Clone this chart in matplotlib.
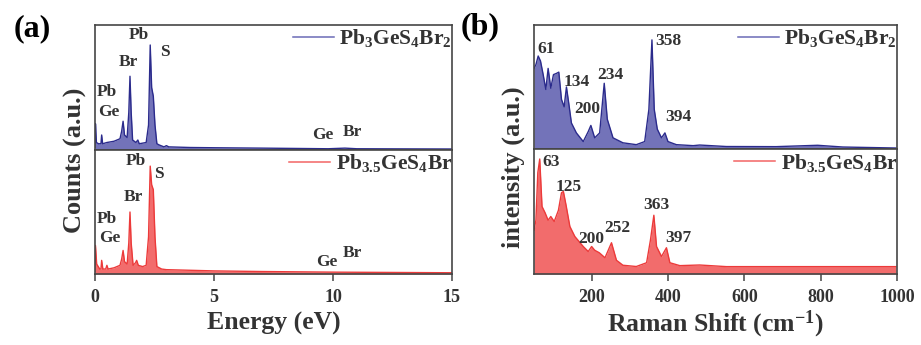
import matplotlib
matplotlib.use("Agg")
import matplotlib.pyplot as plt
from matplotlib.lines import Line2D

plt.rcParams['font.family'] = ['Liberation Serif', 'DejaVu Serif']
plt.rcParams['font.weight'] = 'bold'
plt.rcParams['mathtext.fontset'] = 'custom'
plt.rcParams['mathtext.rm'] = 'Liberation Serif:bold'
plt.rcParams['mathtext.bf'] = 'Liberation Serif:bold'
plt.rcParams['mathtext.it'] = 'Liberation Serif:bold'

# ---------------- data: EDS (energy in eV, counts normalised) ----------------
eds_blue_x = [0.0, 0.02, 0.06, 0.15, 0.25, 0.28, 0.32, 0.5, 0.8, 1.05, 1.12, 1.18, 1.24, 1.35, 1.42,
              1.47, 1.52, 1.58, 1.72, 1.8, 1.86, 2.15, 2.25, 2.32, 2.38, 2.45, 2.52, 2.6, 2.7, 2.9,
              3.0, 3.1, 4.0, 5.0, 7.0, 9.8, 10.5, 11.0, 15.0]
eds_blue_y = [0.02, 0.21, 0.06, 0.05, 0.05, 0.12, 0.05, 0.06, 0.07, 0.09, 0.15, 0.23, 0.12, 0.10, 0.30,
              0.59, 0.30, 0.08, 0.06, 0.08, 0.05, 0.06, 0.20, 0.84, 0.50, 0.43, 0.20, 0.05, 0.04, 0.025,
              0.035, 0.025, 0.02, 0.018, 0.015, 0.01, 0.015, 0.01, 0.008]

eds_red_x = [0.0, 0.02, 0.07, 0.2, 0.25, 0.28, 0.33, 0.45, 0.5, 0.55, 0.8, 1.05, 1.12, 1.18, 1.24, 1.35,
             1.42, 1.47, 1.52, 1.6, 1.7, 1.75, 1.82, 2.0, 2.15, 2.25, 2.32, 2.38, 2.45, 2.52, 2.6,
             2.8, 3.0, 4.0, 5.0, 7.0, 10.0, 15.0]
eds_red_y = [0.02, 0.23, 0.08, 0.04, 0.04, 0.11, 0.04, 0.04, 0.07, 0.04, 0.05, 0.07, 0.12, 0.19, 0.10, 0.08,
             0.25, 0.50, 0.25, 0.07, 0.09, 0.11, 0.07, 0.06, 0.07, 0.30, 0.87, 0.72, 0.68, 0.30, 0.06,
             0.04, 0.035, 0.03, 0.025, 0.02, 0.015, 0.01]

eds_blue_labels = [("Pb", 1.85, 0.92), ("S", 2.94, 0.78), ("Br", 1.39, 0.70), ("Pb", 0.50, 0.46),
                   ("Ge", 0.59, 0.30), ("Ge", 9.58, 0.12), ("Br", 10.8, 0.14)]
eds_red_labels = [("Pb", 1.72, 0.91), ("S", 2.69, 0.81), ("Br", 1.60, 0.62), ("Pb", 0.50, 0.44),
                  ("Ge", 0.63, 0.29), ("Ge", 9.75, 0.10), ("Br", 10.8, 0.17)]

# ---------------- data: Raman (cm-1, intensity normalised) ----------------
raman_blue_x = [49, 54, 60, 66, 73, 80, 86, 93, 100, 108, 114, 121, 128, 134, 140, 147, 160, 178, 191,
                198, 208, 221, 233, 241, 256, 282, 317, 339, 350, 358, 364, 372, 383, 392, 400, 422,
                466, 483, 553, 683, 792, 858, 997]
raman_blue_y = [0.65, 0.68, 0.75, 0.71, 0.60, 0.48, 0.65, 0.49, 0.60, 0.61, 0.62, 0.40, 0.34, 0.50, 0.37,
                0.21, 0.13, 0.06, 0.14, 0.19, 0.09, 0.13, 0.53, 0.24, 0.09, 0.05, 0.035, 0.06, 0.32,
                0.88, 0.32, 0.16, 0.09, 0.13, 0.06, 0.035, 0.027, 0.032, 0.02, 0.019, 0.03, 0.016, 0.008]

raman_red_x = [49, 54, 59, 64, 70, 78, 86, 93, 102, 113, 121, 126, 133, 143, 156, 178, 191, 200, 208,
               220, 235, 252, 265, 282, 317, 344, 354, 363, 370, 383, 396, 405, 431, 483, 553, 727, 997]
raman_red_y = [0.35, 0.43, 0.81, 0.92, 0.54, 0.49, 0.43, 0.46, 0.42, 0.51, 0.65, 0.66, 0.55, 0.38, 0.30,
               0.22, 0.18, 0.22, 0.19, 0.17, 0.13, 0.25, 0.11, 0.07, 0.06, 0.09, 0.27, 0.47, 0.22,
               0.14, 0.21, 0.09, 0.067, 0.072, 0.059, 0.059, 0.059]

raman_blue_labels = [("61", 82, 0.81), ("134", 161, 0.54), ("234", 250, 0.60), ("200", 188, 0.32),
                     ("358", 400, 0.87), ("394", 426, 0.26)]
raman_red_labels = [("63", 93, 0.90), ("125", 139, 0.70), ("200", 198, 0.28), ("252", 267, 0.37),
                    ("363", 370, 0.55), ("397", 426, 0.29)]

name_blue = r'$\mathbf{Pb_3GeS_4Br_2}$'
name_red = r'$\mathbf{Pb_{3.5}GeS_4Br}$'

eds_ticks = [0, 5, 10, 15]
raman_ticks = [200, 400, 600, 800, 1000]

# ---------------- styling ----------------
BLUE_LINE = '#2b2b8c'
BLUE_FILL = '#6b6bb6'
RED_LINE = '#ec3a3a'
RED_FILL = '#f26464'
SPINE = '#454545'
TXT = '#333333'

W, H = 921, 345
fig = plt.figure(figsize=(W / 100, H / 100), dpi=100)


def frac_box(l, r, t, b):
    return [l / W, 1 - b / H, (r - l) / W, (b - t) / H]


def style(ax, bottom):
    for s in ax.spines.values():
        s.set_color(SPINE)
        s.set_linewidth(1.2)
    ax.set_yticks([])
    if bottom:
        ax.tick_params(axis='x', direction='out', length=5, width=1.1, color=SPINE,
                       labelsize=13, pad=6, labelcolor=TXT)
    else:
        ax.tick_params(axis='x', bottom=False, labelbottom=False)


def draw(ax, x, y, line, fill, labels, name, xlim):
    ax.fill_between(x, 0, y, color=fill, alpha=0.95, lw=0)
    ax.plot(x, y, color=line, lw=1.0)
    ax.set_xlim(*xlim)
    ax.set_ylim(0, 1)
    for t, tx, ty in labels:
        ax.text(tx, ty, t, ha='center', va='center', fontsize=12.5, fontweight='bold', color=TXT)
    handle = Line2D([], [], color=fill, lw=1.1)
    leg = ax.legend([handle], [name], loc='upper right', bbox_to_anchor=(1.0, 0.98), frameon=False,
                    fontsize=15.5, handlelength=1.9, handletextpad=0.25, borderaxespad=0, borderpad=0)
    for t in leg.get_texts():
        t.set_color(TXT)


# Panel (a)
axa1 = fig.add_axes(frac_box(95, 452, 25, 150))
axa2 = fig.add_axes(frac_box(95, 452, 150, 274))
draw(axa1, eds_blue_x, eds_blue_y, BLUE_LINE, BLUE_FILL, eds_blue_labels, name_blue, (0, 15))
draw(axa2, eds_red_x, eds_red_y, RED_LINE, RED_FILL, eds_red_labels, name_red, (0, 15))
style(axa1, False)
style(axa2, True)
axa2.set_xticks(eds_ticks)
axa2.set_xticklabels([str(t) for t in eds_ticks], fontweight='bold')
axa2.set_xlabel('Energy (eV)', fontsize=18.5, fontweight='bold', color=TXT, labelpad=4)
fig.text(75 / W, 1 - 160 / H, 'Counts (a.u.)', rotation=90, ha='center', va='center',
         fontsize=19, fontweight='bold', color=TXT)

# Panel (b)
axb1 = fig.add_axes(frac_box(534, 897, 25, 149))
axb2 = fig.add_axes(frac_box(534, 897, 149, 274))
draw(axb1, raman_blue_x, raman_blue_y, BLUE_LINE, BLUE_FILL, raman_blue_labels, name_blue, (49, 1000))
draw(axb2, raman_red_x, raman_red_y, RED_LINE, RED_FILL, raman_red_labels, name_red, (49, 1000))
style(axb1, False)
style(axb2, True)
axb2.set_xticks(raman_ticks)
axb2.set_xticklabels([str(t) for t in raman_ticks], fontweight='bold')
axb2.set_xlabel('Raman Shift (cm$^{-1}$)', fontsize=18.5, fontweight='bold', color=TXT, labelpad=2)
fig.text(513 / W, 1 - 167 / H, 'intensity (a.u.)', rotation=90, ha='center', va='center',
         fontsize=19, fontweight='bold', color=TXT)

fig.text(32 / W, 1 - 29 / H, '(a)', ha='center', va='center', fontsize=23, fontweight='bold')
fig.text(480 / W, 1 - 27 / H, '(b)', ha='center', va='center', fontsize=23, fontweight='bold')

fig.savefig('out.png', dpi=100)
